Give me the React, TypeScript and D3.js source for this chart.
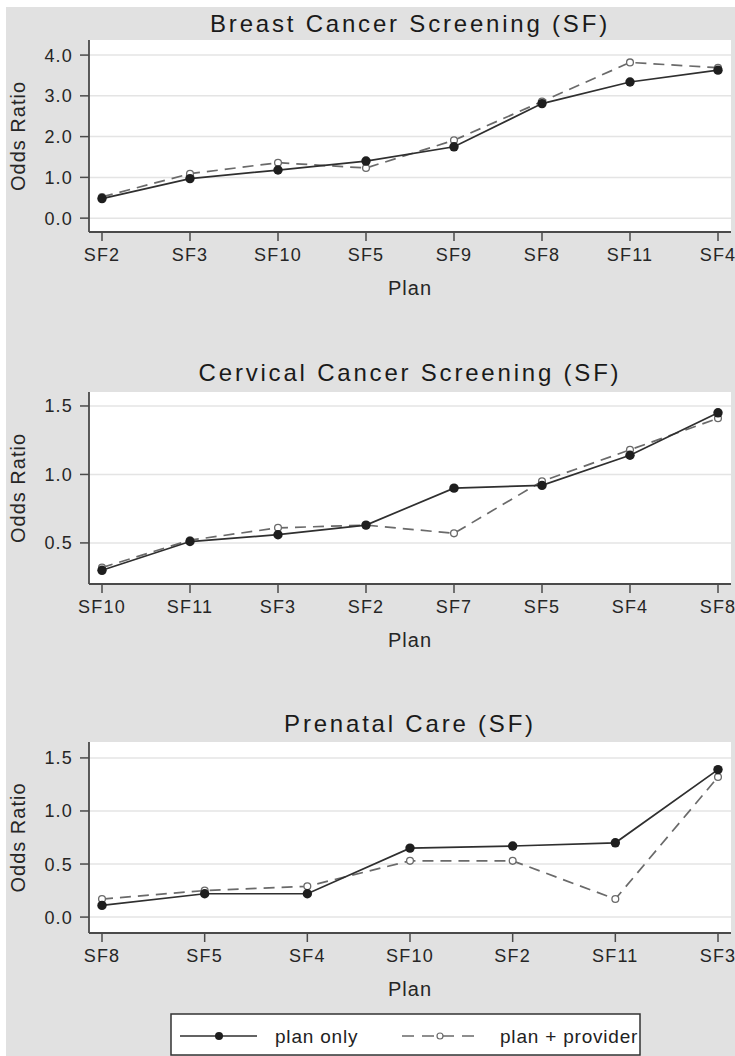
import React from "react";
import * as d3 from "d3";

// ---------- data ----------
const breastCategories = ["SF2", "SF3", "SF10", "SF5", "SF9", "SF8", "SF11", "SF4"];
const breastPlanOnly = [0.48, 0.97, 1.18, 1.4, 1.75, 2.81, 3.34, 3.63];
const breastPlanProvider = [0.52, 1.09, 1.36, 1.23, 1.91, 2.86, 3.82, 3.69];
const breastYTicks = [0, 1, 2, 3, 4];

const cervicalCategories = ["SF10", "SF11", "SF3", "SF2", "SF7", "SF5", "SF4", "SF8"];
const cervicalPlanOnly = [0.3, 0.51, 0.56, 0.63, 0.9, 0.92, 1.14, 1.45];
const cervicalPlanProvider = [0.32, 0.52, 0.61, 0.63, 0.57, 0.95, 1.18, 1.41];
const cervicalYTicks = [0.5, 1.0, 1.5];

const prenatalCategories = ["SF8", "SF5", "SF4", "SF10", "SF2", "SF11", "SF3"];
const prenatalPlanOnly = [0.11, 0.22, 0.22, 0.65, 0.67, 0.7, 1.39];
const prenatalPlanProvider = [0.17, 0.25, 0.29, 0.53, 0.53, 0.17, 1.32];
const prenatalYTicks = [0, 0.5, 1.0, 1.5];

const panelTitles = [
  "Breast Cancer Screening (SF)",
  "Cervical Cancer Screening (SF)",
  "Prenatal Care (SF)",
];
const xAxisLabel = "Plan";
const yAxisLabel = "Odds Ratio";
const legendLabels = ["plan only", "plan + provider"];

// ---------- layout / style ----------
const W = 735;
const H = 1056;
const FONT = "'Liberation Sans', Arial, sans-serif";
const BG = "#e1e1e1";
const AXIS = "#4a4a4a";
const GRID = "#e4e4e4";
const SOLID = "#2f2f2f";
const DASHED = "#6a6a6a";
const PLOT_LEFT = 89;
const PLOT_RIGHT = 731;
const X_FIRST = 102;
const X_LAST = 718;

interface PanelSpec {
  title: string;
  categories: string[];
  planOnly: number[];
  planProvider: number[];
  domain: [number, number];
  ticks: number[];
  top: number;
  bottom: number;
  titleY: number;
}

const panels: PanelSpec[] = [
  {
    title: panelTitles[0],
    categories: breastCategories,
    planOnly: breastPlanOnly,
    planProvider: breastPlanProvider,
    domain: [-0.34, 4.37],
    ticks: breastYTicks,
    top: 40,
    bottom: 232,
    titleY: 32,
  },
  {
    title: panelTitles[1],
    categories: cervicalCategories,
    planOnly: cervicalPlanOnly,
    planProvider: cervicalPlanProvider,
    domain: [0.2, 1.602],
    ticks: cervicalYTicks,
    top: 392,
    bottom: 584,
    titleY: 381,
  },
  {
    title: panelTitles[2],
    categories: prenatalCategories,
    planOnly: prenatalPlanOnly,
    planProvider: prenatalPlanProvider,
    domain: [-0.15, 1.65],
    ticks: prenatalYTicks,
    top: 742,
    bottom: 933,
    titleY: 732,
  },
];

const fmt = d3.format(".1f");

function Panel({ spec }: { spec: PanelSpec }) {
  const x = d3.scalePoint<string>().domain(spec.categories).range([X_FIRST, X_LAST]);
  const y = d3.scaleLinear().domain(spec.domain).range([spec.bottom, spec.top]);
  const lineGen = (vals: number[]) =>
    d3
      .line<number>()
      .x((_, i) => x(spec.categories[i]) as number)
      .y((d) => y(d))(vals) as string;
  const midY = (spec.top + spec.bottom) / 2;
  return (
    <g>
      <text
        x={(PLOT_LEFT + PLOT_RIGHT) / 2}
        y={spec.titleY}
        textAnchor="middle"
        fontFamily={FONT}
        fontSize={24}
        letterSpacing={2.8}
        fill="#1a1a1a"
      >
        {spec.title}
      </text>
      <rect
        x={PLOT_LEFT}
        y={spec.top}
        width={PLOT_RIGHT - PLOT_LEFT}
        height={spec.bottom - spec.top}
        fill="#ffffff"
      />
      {spec.ticks.map((t) => (
        <line
          key={"g" + t}
          x1={PLOT_LEFT}
          x2={PLOT_RIGHT}
          y1={y(t)}
          y2={y(t)}
          stroke={GRID}
          strokeWidth={1.5}
        />
      ))}
      {/* axes */}
      <line x1={PLOT_LEFT} x2={PLOT_LEFT} y1={spec.top} y2={spec.bottom} stroke={AXIS} strokeWidth={1.8} />
      <line x1={PLOT_LEFT} x2={PLOT_RIGHT} y1={spec.bottom} y2={spec.bottom} stroke={AXIS} strokeWidth={1.8} />
      {spec.ticks.map((t) => (
        <g key={"yt" + t}>
          <line x1={PLOT_LEFT - 9} x2={PLOT_LEFT} y1={y(t)} y2={y(t)} stroke={AXIS} strokeWidth={1.5} />
          <text
            x={73}
            y={y(t)}
            dy="0.36em"
            textAnchor="end"
            fontFamily={FONT}
            fontSize={18}
            letterSpacing={1.2}
            fill="#262626"
          >
            {fmt(t)}
          </text>
        </g>
      ))}
      {spec.categories.map((c) => (
        <g key={"xt" + c}>
          <line
            x1={x(c)}
            x2={x(c)}
            y1={spec.bottom}
            y2={spec.bottom + 9}
            stroke={AXIS}
            strokeWidth={1.5}
          />
          <text
            x={x(c)}
            y={spec.bottom + 29}
            textAnchor="middle"
            fontFamily={FONT}
            fontSize={18}
            letterSpacing={1.2}
            fill="#262626"
          >
            {c}
          </text>
        </g>
      ))}
      <text
        x={(PLOT_LEFT + PLOT_RIGHT) / 2}
        y={spec.bottom + 63}
        textAnchor="middle"
        fontFamily={FONT}
        fontSize={20}
        letterSpacing={1}
        fill="#262626"
      >
        {xAxisLabel}
      </text>
      <text
        transform={`translate(25,${midY}) rotate(-90)`}
        textAnchor="middle"
        fontFamily={FONT}
        fontSize={20}
        letterSpacing={1}
        fill="#262626"
      >
        {yAxisLabel}
      </text>
      {/* series */}
      <path d={lineGen(spec.planProvider)} fill="none" stroke={DASHED} strokeWidth={1.7} strokeDasharray="11,7" />
      <path d={lineGen(spec.planOnly)} fill="none" stroke={SOLID} strokeWidth={1.7} />
      {spec.planProvider.map((v, i) => (
        <circle
          key={"pp" + i}
          cx={x(spec.categories[i])}
          cy={y(v)}
          r={3.4}
          fill="#fff"
          stroke={DASHED}
          strokeWidth={1.3}
        />
      ))}
      {spec.planOnly.map((v, i) => (
        <circle key={"po" + i} cx={x(spec.categories[i])} cy={y(v)} r={4.7} fill="#1e1e1e" />
      ))}
    </g>
  );
}

function Legend() {
  const top = 1014;
  const cy = 1036;
  return (
    <g>
      <rect x={171} y={top} width={469} height={41} fill="#fff" stroke="#333" strokeWidth={1.5} />
      <line x1={180} x2={257} y1={cy} y2={cy} stroke={SOLID} strokeWidth={1.6} />
      <circle cx={219} cy={cy} r={4} fill="#1e1e1e" />
      <text x={275} y={cy + 7} fontFamily={FONT} fontSize={19} letterSpacing={0.8} fill="#222">
        {legendLabels[0]}
      </text>
      <line x1={402} x2={480} y1={cy} y2={cy} stroke={DASHED} strokeWidth={1.6} strokeDasharray="12,8" />
      <circle cx={440} cy={cy} r={3} fill="#fff" stroke={DASHED} strokeWidth={1.2} />
      <text x={500} y={cy + 7} fontFamily={FONT} fontSize={19} letterSpacing={0.8} fill="#222">
        {legendLabels[1]}
      </text>
    </g>
  );
}

export default function App() {
  return (
    <div style={{ position: "absolute", left: 0, top: 0 }}>
      <svg width={W} height={H} viewBox={`0 0 ${W} ${H}`} style={{ display: "block" }}>
        <rect x={0} y={0} width={W} height={H} fill="#ffffff" />
        <rect x={6} y={7} width={W - 6} height={H - 7} fill={BG} />
        {panels.map((p) => (
          <Panel key={p.title} spec={p} />
        ))}
        <Legend />
      </svg>
    </div>
  );
}
